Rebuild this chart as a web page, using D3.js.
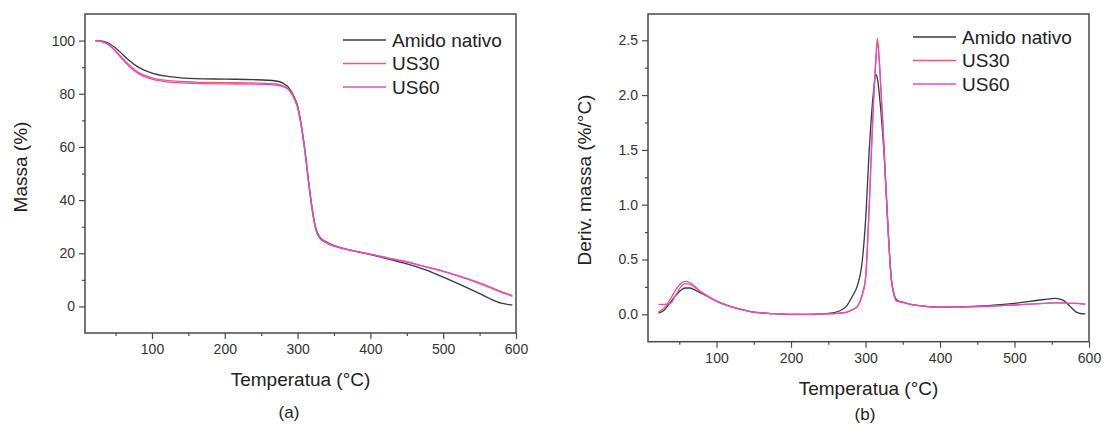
<!DOCTYPE html>
<html>
<head>
<meta charset="utf-8">
<script src="https://cdn.jsdelivr.net/npm/d3@7"></script>
<style>
  body { margin: 0; background: #fff; }
  svg { display: block; font-family: "Liberation Sans", Arial, sans-serif; }
</style>
</head>
<body>
<svg id="chart" width="1104" height="428"></svg>
<script>
// series names + colours
const seriesNames = ["Amido nativo", "US30", "US60"]
const seriesColors = ["#333a40", "#ec5a6e", "#e04ccc"]

// (a) TGA - mass (%)
const tempTGA = [22, 30, 40, 50, 60, 70, 80, 90, 100, 120, 140, 160, 200, 240, 270, 280, 290, 295, 300, 305, 310, 315, 320, 325, 330, 340, 360, 380, 400, 425, 450, 475, 500, 525, 550, 565, 580, 590, 595]
const massaAmido = [100, 99.9, 99.1, 97.2, 94.7, 92.2, 90.2, 88.8, 87.8, 86.6, 86.0, 85.7, 85.5, 85.3, 84.8, 84.0, 81.5, 79.0, 75.5, 68.5, 59.0, 47.5, 37.0, 29.5, 26.3, 24.2, 22.0, 20.7, 19.5, 17.8, 16.0, 13.8, 11.0, 8.0, 4.8, 2.8, 1.2, 0.7, 0.6]
const massaUS30 = [100, 99.8, 98.6, 96.2, 93.2, 90.5, 88.3, 86.9, 86.0, 85.0, 84.6, 84.4, 84.2, 84.1, 83.7, 83.0, 81.0, 78.5, 75.0, 68.0, 58.5, 47.0, 36.5, 29.0, 26.0, 24.0, 22.0, 20.8, 19.7, 18.2, 16.8, 15.0, 13.2, 11.0, 8.6, 7.0, 5.3, 4.3, 3.8]
const massaUS60 = [100, 99.7, 98.4, 95.9, 92.8, 90.0, 87.8, 86.4, 85.5, 84.5, 84.1, 83.9, 83.7, 83.6, 83.3, 82.7, 80.8, 78.3, 74.8, 67.8, 58.3, 46.8, 36.3, 28.8, 25.8, 23.8, 21.9, 20.7, 19.6, 18.1, 16.7, 15.0, 13.3, 11.2, 8.9, 7.3, 5.6, 4.6, 4.1]

// (b) DTG - derivative of mass (%/°C)
const tempDTG = [22, 30, 38, 45, 52, 58, 64, 70, 80, 90, 100, 115, 130, 150, 175, 200, 225, 250, 265, 275, 282, 289, 295, 300, 305, 310, 314, 316, 320, 325, 330, 335, 342, 350, 365, 385, 400, 450, 500, 540, 555, 565, 575, 583, 590, 595]
const derivAmido = [0.01, 0.04, 0.11, 0.17, 0.22, 0.24, 0.24, 0.225, 0.19, 0.155, 0.12, 0.08, 0.05, 0.02, 0.007, 0.0, 0.0, 0.008, 0.03, 0.08, 0.16, 0.26, 0.45, 0.85, 1.5, 1.98, 2.19, 2.15, 1.9, 1.45, 0.82, 0.3, 0.13, 0.11, 0.085, 0.07, 0.065, 0.075, 0.1, 0.135, 0.145, 0.13, 0.07, 0.02, 0.005, 0.003]
const derivUS30 = [0.02, 0.06, 0.14, 0.22, 0.28, 0.30, 0.29, 0.26, 0.20, 0.16, 0.12, 0.08, 0.05, 0.02, 0.007, 0.0, 0.0, 0.003, 0.01, 0.02, 0.04, 0.07, 0.17, 0.33, 1.0, 1.85, 2.35, 2.52, 2.15, 1.5, 0.8, 0.3, 0.12, 0.11, 0.085, 0.07, 0.065, 0.07, 0.085, 0.1, 0.105, 0.105, 0.1, 0.1, 0.095, 0.095]
const derivUS60 = [0.09, 0.09, 0.10, 0.17, 0.25, 0.28, 0.275, 0.25, 0.20, 0.155, 0.12, 0.08, 0.05, 0.02, 0.007, 0.0, 0.0, 0.003, 0.01, 0.02, 0.04, 0.07, 0.16, 0.32, 0.98, 1.82, 2.32, 2.48, 2.13, 1.5, 0.8, 0.3, 0.12, 0.11, 0.085, 0.07, 0.065, 0.07, 0.085, 0.1, 0.105, 0.105, 0.1, 0.1, 0.095, 0.09]

const xTicks = [100, 200, 300, 400, 500, 600]
const xMinor = [50, 150, 250, 350, 450, 550]
const massaTicks = [0, 20, 40, 60, 80, 100]
const massaMinor = [-10, 10, 30, 50, 70, 90, 110]
const derivTicks = [0, 0.5, 1.0, 1.5, 2.0, 2.5]
const derivMinor = [-0.25, 0.25, 0.75, 1.25, 1.75, 2.25]

const svg = d3.select("#chart")
const axisColor = "#4a4a4a"
const textColor = "#333"

function panel(opts) {
  const x = d3.scaleLinear().domain([8, 600]).range(opts.xr)
  const y = d3.scaleLinear().domain(opts.yd).range(opts.yr)
  const g = svg.append("g")

  // minor ticks first
  g.append("g")
    .attr("transform", "translate(0," + opts.yr[0] + ")")
    .call(d3.axisBottom(x).tickValues(xMinor).tickSize(3).tickFormat(""))
  g.append("g")
    .attr("transform", "translate(" + opts.xr[0] + ",0)")
    .call(d3.axisLeft(y).tickValues(opts.yMinor.filter(v => v > opts.yd[0] && v < opts.yd[1])).tickSize(3).tickFormat(""))

  g.append("g")
    .attr("transform", "translate(0," + opts.yr[0] + ")")
    .call(d3.axisBottom(x).tickValues(xTicks).tickSize(6).tickPadding(5).tickFormat(d3.format("d")))
  g.append("g")
    .attr("transform", "translate(" + opts.xr[0] + ",0)")
    .call(d3.axisLeft(y).tickValues(opts.yTicks).tickSize(6).tickPadding(4).tickFormat(opts.fmt))

  g.selectAll(".domain").remove()
  g.selectAll(".tick line").attr("stroke", axisColor).attr("stroke-width", 1.2)
  g.selectAll(".tick text").attr("fill", textColor).style("font-size", "14px")
    .style("font-family", "'Liberation Sans', Arial, sans-serif")

  // frame
  g.append("rect")
    .attr("x", opts.xr[0]).attr("y", opts.yr[1])
    .attr("width", opts.xr[1] - opts.xr[0]).attr("height", opts.yr[0] - opts.yr[1])
    .attr("fill", "none").attr("stroke", axisColor).attr("stroke-width", 1.5)

  const line = d3.line()
    .x((d, i) => x(opts.temps[i]))
    .y(d => y(d))
    .curve(d3.curveMonotoneX)

  opts.series.forEach((s, i) => {
    g.append("path")
      .datum(s)
      .attr("fill", "none")
      .attr("stroke", seriesColors[i])
      .attr("stroke-width", 1.3)
      .attr("d", line)
  })

  // legend
  const leg = g.append("g")
  seriesNames.forEach((name, i) => {
    const yy = opts.legY + i * 23.5
    leg.append("line")
      .attr("x1", opts.legX).attr("x2", opts.legX + 43)
      .attr("y1", yy).attr("y2", yy)
      .attr("stroke", seriesColors[i]).attr("stroke-width", 1.3)
    leg.append("text")
      .attr("x", opts.legX + 49).attr("y", yy + 6.5)
      .attr("fill", "#222").style("font-size", "19px")
      .text(name)
  })

  // axis titles
  const cx = (opts.xr[0] + opts.xr[1]) / 2
  g.append("text")
    .attr("x", cx).attr("y", opts.yr[0] + 53)
    .attr("text-anchor", "middle").attr("fill", "#222").style("font-size", "19px")
    .text("Temperatua (°C)")
  g.append("text")
    .attr("transform", "translate(" + opts.yTitleX + "," + opts.yTitleY + ") rotate(-90)")
    .attr("text-anchor", "middle").attr("fill", "#222").style("font-size", "19px")
    .text(opts.yTitle)
  g.append("text")
    .attr("x", opts.labelX).attr("y", opts.labelY)
    .attr("text-anchor", "middle").attr("fill", "#222").style("font-size", "17px")
    .text(opts.label)
}

panel({
  xr: [85, 516], yr: [333, 14], yd: [-10, 110],
  temps: tempTGA, series: [massaAmido, massaUS30, massaUS60],
  yTicks: massaTicks, yMinor: massaMinor, fmt: d3.format("d"),
  legX: 343, legY: 40,
  yTitle: "Massa (%)", yTitleX: 27, yTitleY: 167,
  label: "(a)", labelX: 289, labelY: 418
})

panel({
  xr: [648, 1089], yr: [341.7, 14], yd: [-0.25, 2.74],
  temps: tempDTG, series: [derivAmido, derivUS30, derivUS60],
  yTicks: derivTicks, yMinor: derivMinor, fmt: d3.format(".1f"),
  legX: 913, legY: 37,
  yTitle: "Deriv. massa (%/°C)", yTitleX: 591, yTitleY: 180,
  label: "(b)", labelX: 865, labelY: 420
})
</script>
</body>
</html>
